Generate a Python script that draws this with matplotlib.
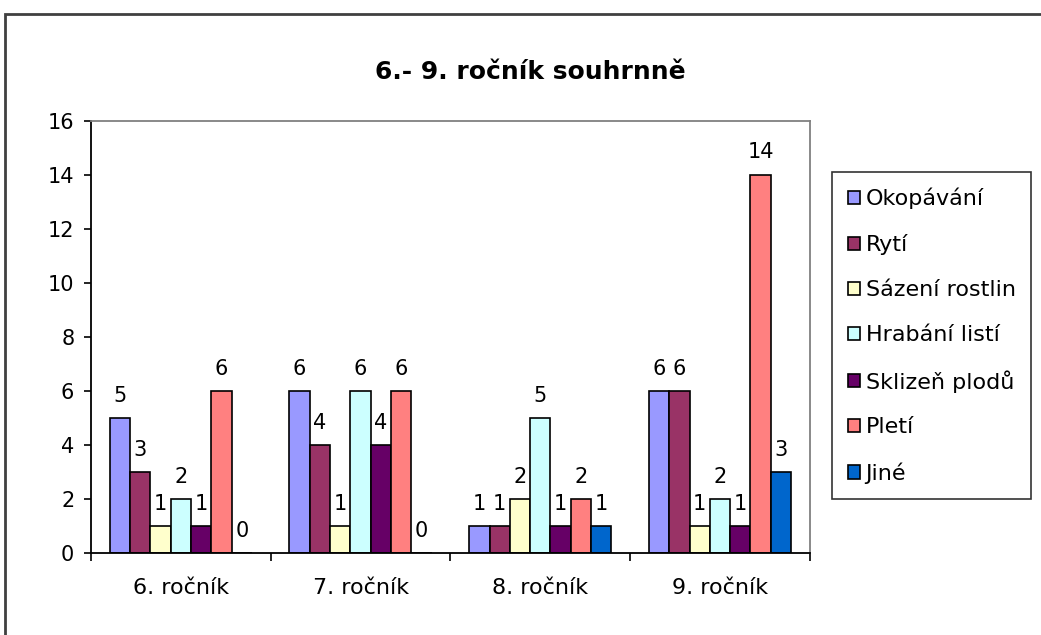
import numpy as np
import matplotlib
matplotlib.use("Agg")
import matplotlib.pyplot as plt
from matplotlib.patches import Rectangle

plt.rcParams["font.family"] = ["DejaVu Sans"]

categories = ["6. ročník", "7. ročník", "8. ročník", "9. ročník"]
series_names = ["Okopávání", "Rytí", "Sázení rostlin", "Hrabání listí",
                "Sklizeň plodů", "Pletí", "Jiné"]
okopavani = [5, 6, 1, 6]
ryti = [3, 4, 1, 6]
sazeni = [1, 1, 2, 1]
hrabani = [2, 6, 5, 2]
sklizen = [1, 4, 1, 1]
pleti = [6, 6, 2, 14]
jine = [0, 0, 1, 3]
values = [okopavani, ryti, sazeni, hrabani, sklizen, pleti, jine]
colors = ["#9999FF", "#993366", "#FFFFCC", "#CCFFFF", "#660066", "#FF8080", "#0066CC"]

fig = plt.figure(figsize=(10.41, 6.35), dpi=100)
ax = fig.add_axes([0.0874, 0.129, 0.6906, 0.6806])

x = np.arange(len(categories))
w = 0.113
n = len(series_names)
for i, (name, vals, c) in enumerate(zip(series_names, values, colors)):
    pos = x + (i - (n - 1) / 2) * w
    ax.bar(pos, vals, width=w, color=c, edgecolor="black", linewidth=1.2,
           label=name)
    for p, v in zip(pos, vals):
        ax.annotate(str(v), (p, v), xytext=(0, 9), textcoords="offset points",
                    ha="center", va="bottom", fontsize=15)

ax.set_xlim(-0.5, len(categories) - 0.5)
ax.set_ylim(0, 16)
ax.set_yticks(range(0, 17, 2))
ax.tick_params(axis="y", labelsize=15, length=5, width=1.2, direction="out", pad=7)
ax.set_xticks(x)
ax.set_xticklabels(categories)
ax.tick_params(axis="x", labelsize=16, length=0, pad=18)
ax.set_xticks(np.arange(-0.5, len(categories)), minor=True)
ax.tick_params(axis="x", which="minor", length=6, width=1.2, direction="out")

for s in ["left", "bottom"]:
    ax.spines[s].set_linewidth(1.3)
    ax.spines[s].set_color("black")
for s in ["top", "right"]:
    ax.spines[s].set_linewidth(1.3)
    ax.spines[s].set_color("#808080")

fig.text(530 / 1041, 1 - 72 / 635, "6.- 9. ročník souhrnně", fontsize=18,
         fontweight="bold", ha="center", va="center")

leg = ax.legend(loc="upper left", bbox_to_anchor=(1.031, 0.881), fontsize=16,
                frameon=True, fancybox=False, edgecolor="black",
                handlelength=0.55, handleheight=0.55, handletextpad=0.25,
                labelspacing=1.12, borderpad=0.7, borderaxespad=0)
leg.get_frame().set_linewidth(1.2)

fig.patches.append(Rectangle((5 / 1041, -0.1), 1.2, (635 - 14) / 635 + 0.1,
                             transform=fig.transFigure, fill=False,
                             edgecolor="#404040", linewidth=2))

fig.savefig("out.png", dpi=100)
